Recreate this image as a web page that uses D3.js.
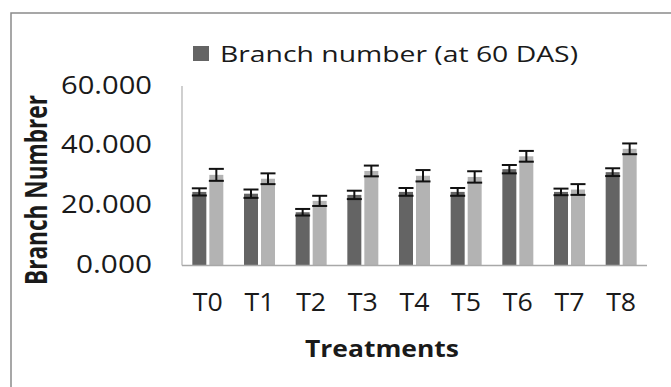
<!DOCTYPE html>
<html>
<head>
<meta charset="utf-8">
<script src="https://cdn.jsdelivr.net/npm/d3@7"></script>
<style>
  html, body { margin: 0; padding: 0; background: #fff; }
  svg { display: block; }
  text { font-family: "Open Sans", "Noto Sans", sans-serif; fill: #1a1a1a; }
</style>
</head>
<body>
<svg id="chart" width="671" height="387"></svg>
<script>
// ---- data ----
const categories = ["T0", "T1", "T2", "T3", "T4", "T5", "T6", "T7", "T8"];
const seriesNames = ["Branch number (at 60 DAS)", "series2"];
const branchDark = [24.6, 24.0, 17.8, 23.6, 24.6, 24.6, 32.2, 24.6, 31.2];
const branchLight = [30.3, 29.0, 21.6, 31.6, 30.0, 29.6, 36.5, 25.4, 39.0];
const errDark = [1.2, 1.4, 1.1, 1.4, 1.3, 1.3, 1.4, 1.1, 1.3];
const errLight = [2.0, 1.8, 1.7, 1.8, 1.9, 1.9, 1.8, 1.8, 1.8];
const yTicks = [0, 20, 40, 60];
const xTitle = "Treatments";
const yTitle = "Branch Numbrer";

// ---- layout ----
const svg = d3.select("#chart");
const W = 671, H = 387;
const plot = { left: 182, right: 647, top: 86, bottom: 265.5 };
const colors = ["#646464", "#b3b3b3"];

// frame
svg.append("rect")
  .attr("x", 11).attr("y", 13)
  .attr("width", W + 20).attr("height", H + 20)
  .attr("fill", "#fff").attr("stroke", "#8a8a8a").attr("stroke-width", 1.5);

const x = d3.scaleBand().domain(categories).range([plot.left, plot.right]).padding(0);
const groupW = 31;
const x1 = d3.scaleBand().domain([0, 1]).range([0, groupW]).paddingInner(3 / 17);
const y = d3.scaleLinear().domain([0, 60]).range([plot.bottom, plot.top]);

// y axis line
svg.append("line")
  .attr("x1", plot.left).attr("x2", plot.left)
  .attr("y1", y(60)).attr("y2", y(0))
  .attr("stroke", "#b0b0b0").attr("stroke-width", 1.2);

// y tick labels
const fmt = d3.format(".3f");
svg.append("g").selectAll("text").data(yTicks).join("text")
  .attr("x", 152)
  .attr("y", d => y(d) + 7.5)
  .attr("text-anchor", "end")
  .attr("font-size", 25)
  .attr("textLength", d => fmt(d).length === 6 ? 91 : 76)
  .attr("lengthAdjust", "spacingAndGlyphs")
  .text(d => fmt(d));

// bars
const rows = categories.map((c, i) => ({
  c,
  vals: [
    { s: 0, v: branchDark[i], e: errDark[i] },
    { s: 1, v: branchLight[i], e: errLight[i] }
  ]
}));

const g = svg.append("g").selectAll("g").data(rows).join("g")
  .attr("transform", d => `translate(${x(d.c) + x.bandwidth() / 2 - groupW / 2},0)`);

g.selectAll("rect").data(d => d.vals).join("rect")
  .attr("x", d => x1(d.s))
  .attr("width", x1.bandwidth())
  .attr("y", d => y(d.v))
  .attr("height", d => y(0) - y(d.v))
  .attr("fill", d => colors[d.s]);

// error bars
const eb = g.selectAll("g.eb").data(d => d.vals).join("g").attr("class", "eb");
eb.append("line")
  .attr("x1", d => x1(d.s) + x1.bandwidth() / 2)
  .attr("x2", d => x1(d.s) + x1.bandwidth() / 2)
  .attr("y1", d => y(d.v + d.e)).attr("y2", d => y(d.v - d.e))
  .attr("stroke", "#111").attr("stroke-width", 2);
eb.selectAll("line.cap").data(d => [
    { s: d.s, yy: d.v + d.e }, { s: d.s, yy: d.v - d.e }
  ]).join("line").attr("class", "cap")
  .attr("x1", d => x1(d.s) - 0.5)
  .attr("x2", d => x1(d.s) + x1.bandwidth() + 0.5)
  .attr("y1", d => y(d.yy)).attr("y2", d => y(d.yy))
  .attr("stroke", "#111").attr("stroke-width", 2);

// x axis line
svg.append("line")
  .attr("x1", plot.left).attr("x2", plot.right)
  .attr("y1", y(0)).attr("y2", y(0))
  .attr("stroke", "#a8a8a8").attr("stroke-width", 1.5);

// x tick labels
svg.append("g").selectAll("text").data(categories).join("text")
  .attr("x", d => x(d) + x.bandwidth() / 2)
  .attr("y", 311)
  .attr("text-anchor", "middle")
  .attr("font-size", 25)
  .attr("textLength", 30)
  .attr("lengthAdjust", "spacingAndGlyphs")
  .text(d => d);

// x title
svg.append("text")
  .attr("x", 382).attr("y", 357)
  .attr("text-anchor", "middle")
  .attr("font-size", 23.5).attr("font-weight", "bold")
  .attr("textLength", 154).attr("lengthAdjust", "spacingAndGlyphs")
  .text(xTitle);

// y title (rotated)
svg.append("text")
  .attr("transform", "translate(47,190) rotate(-90) scale(1,1.28)")
  .attr("text-anchor", "middle")
  .attr("font-size", 23.5).attr("font-weight", "bold")
  .attr("textLength", 190).attr("lengthAdjust", "spacingAndGlyphs")
  .text(yTitle);

// legend
svg.append("rect")
  .attr("x", 193).attr("y", 46).attr("width", 16).attr("height", 15)
  .attr("fill", colors[0]);
svg.append("text")
  .attr("x", 220).attr("y", 61.5)
  .attr("font-size", 22.5)
  .attr("textLength", 358).attr("lengthAdjust", "spacingAndGlyphs")
  .text(seriesNames[0]);
</script>
</body>
</html>
